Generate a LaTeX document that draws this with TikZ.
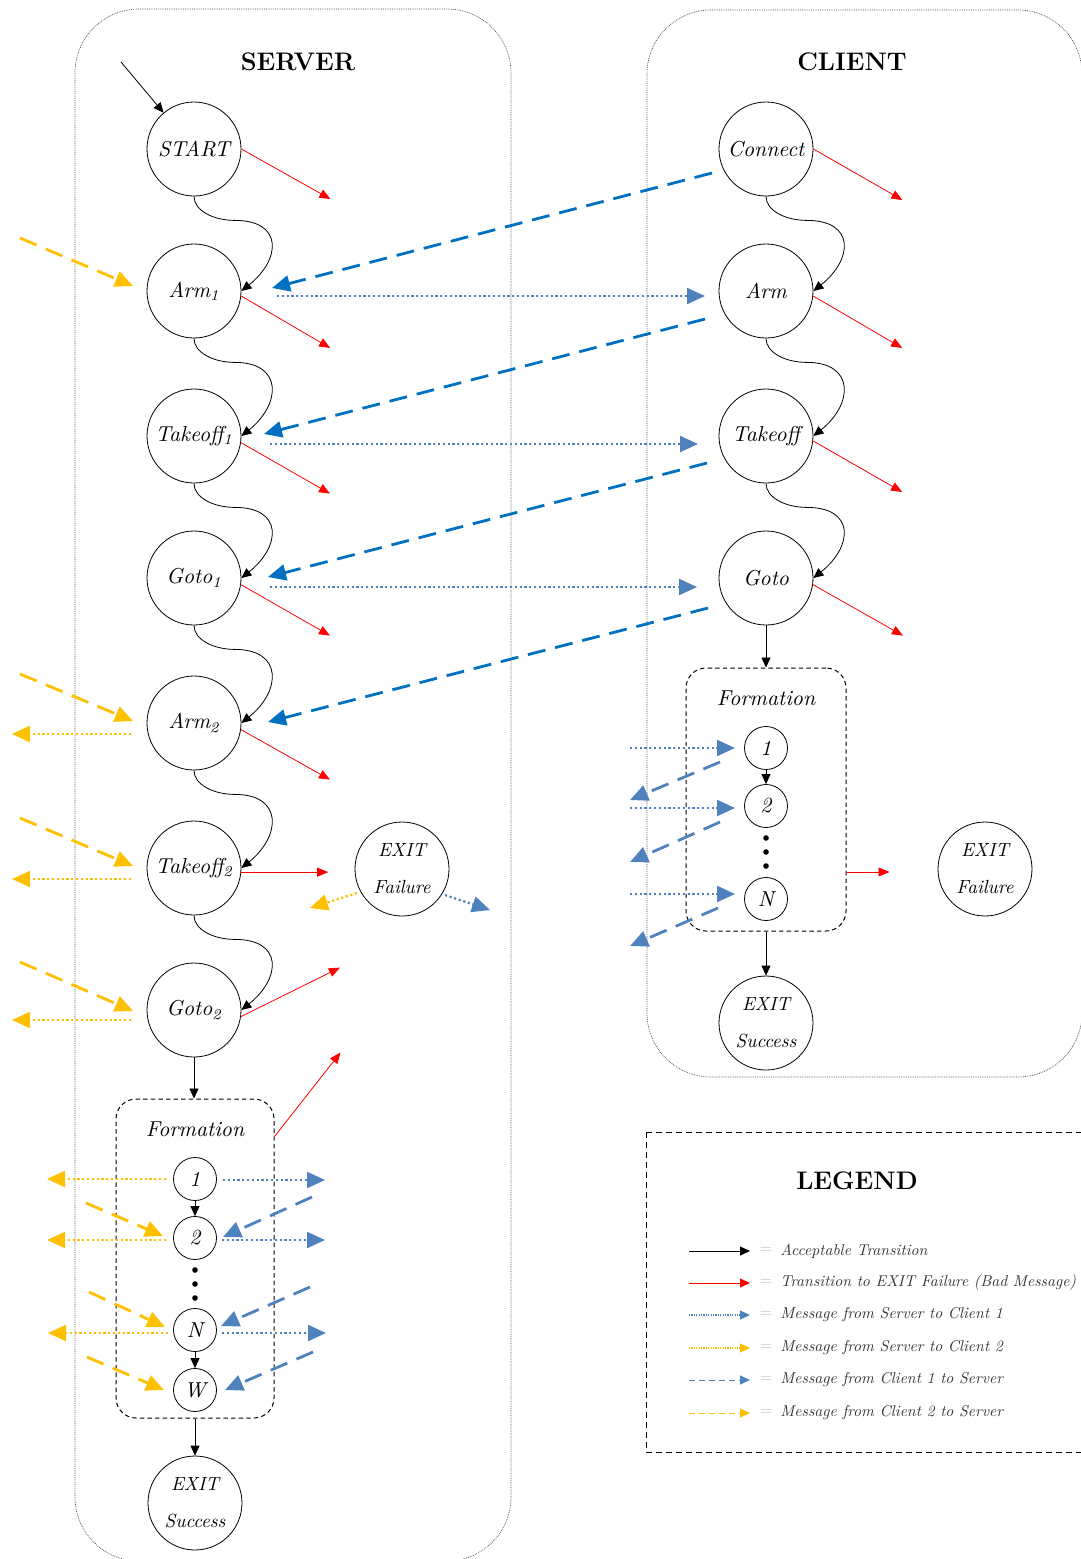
\documentclass[tikz,border=0pt]{standalone}
\usetikzlibrary{arrows.meta,calc}
\definecolor{dblue}{HTML}{0070C0}
\definecolor{lblue}{HTML}{4F81BD}
\definecolor{yel}{HTML}{FFC000}
\definecolor{redc}{HTML}{FF0000}
\newcommand\wavy[2]{\draw[acc] (#1.south) .. controls +(0,14) and +(-22,0) .. ($(#1.south)+(41,24)$) .. controls +(48,0) and +(40,-32) .. (#2.east);}
\tikzset{
  state/.style={circle,draw,minimum size=47pt,inner sep=0pt,font=\fontsize{10.8}{13}\selectfont\itshape},
  exitst/.style={circle,draw,minimum size=47pt,inner sep=0pt,align=center,font=\fontsize{9.5}{18.5}\selectfont\itshape},
  substate/.style={circle,draw,minimum size=21.5pt,inner sep=0pt,font=\fontsize{10.8}{13}\selectfont\itshape},
  formbox/.style={draw,line width=0.5pt,dash pattern=on 2.2pt off 1.6pt,rounded corners=10pt,minimum width=79pt},
  lbl/.style={font=\fontsize{10.8}{13}\selectfont\itshape},
  title/.style={font=\fontsize{12.7}{15}\selectfont\bfseries},
  bigtip/.style={-{Triangle[length=9pt,width=8pt]}},
  acc/.style={black,-{Triangle[length=5pt,width=4.5pt]}},
  bad/.style={redc,-{Triangle[length=5.5pt,width=4.5pt]}},
  cdark/.style={dblue,line width=1.4pt,dash pattern=on 9pt off 5pt,bigtip},
  cone/.style={lblue,line width=1.4pt,dash pattern=on 9pt off 5pt,bigtip},
  ctwo/.style={yel,line width=1.4pt,dash pattern=on 9pt off 5pt,bigtip},
  sone/.style={lblue,line width=1.1pt,dash pattern=on 1.1pt off 1.3pt,bigtip},
  stwo/.style={yel,line width=1.1pt,dash pattern=on 1.1pt off 1.3pt,bigtip},
  dotn/.style={circle,fill,inner sep=0pt,minimum size=2.8pt},
  bigbox/.style={draw=black!70,line width=0.35pt,dash pattern=on 0.4pt off 0.5pt,rounded corners=32pt},
  legtip/.style={-{Triangle[length=5pt,width=4.5pt]}},
  legtext/.style={anchor=west,inner sep=0pt,text=black!80,font=\fontsize{10}{12}\selectfont\itshape,scale=0.785,transform shape},
  legeq/.style={text=black!25,font=\fontsize{10}{12}\selectfont,scale=0.785,transform shape},
}
\begin{document}
\begin{tikzpicture}[x=0.5pt,y=-0.5pt]
\useasboundingbox (0,0) rectangle (1081,1559);
\clip (0,0) rectangle (1081,1559);
% big boxes
\draw[bigbox] (75,9) rectangle (511,1561);
\draw[bigbox] (647,10) rectangle (1082,1077);
\node[title] (srvT) at (298,62) {SERVER};
\node[title] (cliT) at (852,62) {CLIENT};

% server states
\node[state] (S0) at (194,149) {START};
\node[state] (A1) at (194,291) {Arm\textsubscript{1}};
\node[state] (T1) at (194,436) {Takeoff\textsubscript{1}};
\node[state] (G1) at (194,578) {Goto\textsubscript{1}};
\node[state] (A2) at (194,723) {Arm\textsubscript{2}};
\node[state] (T2) at (194,868) {Takeoff\textsubscript{2}};
\node[state] (G2) at (194,1010) {Goto\textsubscript{2}};
\node[exitst] (EF) at (402,869) {EXIT\\Failure};
\node[formbox,minimum height=159.5pt] (F) at (195,1258.5) {};
\node[lbl] (Flbl) at (195,1129) {Formation};
\node[substate] (f1) at (195,1179) {1};
\node[substate] (f2) at (195,1238) {2};
\node[dotn] (fd1) at (195,1270) {};
\node[dotn] (fd2) at (195,1284) {};
\node[dotn] (fd3) at (195,1298) {};
\node[substate] (fN) at (195,1330) {N};
\node[substate] (fW) at (195,1390) {W};
\node[exitst] (ES) at (195,1503) {EXIT\\Success};

% client states
\node[state] (C0) at (766,149) {Connect};
\node[state] (CA) at (766,291) {Arm};
\node[state] (CT) at (766,436) {Takeoff};
\node[state] (CG) at (766,578) {Goto};
\node[formbox,minimum width=80pt,minimum height=131.5pt] (CF) at (766,799.5) {};
\node[lbl] (CFlbl) at (766,698) {Formation};
\node[substate] (c1) at (766,748) {1};
\node[substate] (c2) at (766,806) {2};
\node[dotn] (cd1) at (766,838) {};
\node[dotn] (cd2) at (766,852) {};
\node[dotn] (cd3) at (766,866) {};
\node[substate] (cN) at (766,899) {N};
\node[exitst] (CES) at (766,1023) {EXIT\\Success};
\node[exitst] (CEF) at (985,869) {EXIT\\Failure};

% acceptable transitions
\coordinate (init) at (121,62);
\draw[acc] (init) -- (S0);
\wavy{S0}{A1}
\wavy{A1}{T1}
\wavy{T1}{G1}
\wavy{G1}{A2}
\wavy{A2}{T2}
\wavy{T2}{G2}
\wavy{C0}{CA}
\wavy{CA}{CT}
\wavy{CT}{CG}
\draw[acc] (G2.south) -- (G2.south |- F.north);
\draw[acc] (f1) -- (f2);
\draw[acc] (fN) -- (fW);
\draw[acc] (F.south) -- (ES);
\draw[acc] (CG.south) -- (CF.north);
\draw[acc] (c1) -- (c2);
\draw[acc] (CF.south) -- (CES);

% failure transitions
\draw[bad] (S0.0) -- ++(89,50);
\draw[bad] (A1.-6) -- ++(89,52);
\draw[bad] (T1.-8) -- ++(89,51);
\draw[bad] (G1.-8) -- ++(89,51);
\draw[bad] (A2.-8) -- ++(89,50);
\draw[bad] (T2.-5) -- ++(87,0);
\draw[bad] (G2.-8) -- ++(99,-49);
\draw[bad] ([shift={(0,38)}]F.north east) -- ++(66,-84);
\draw[bad] (C0.0) -- ++(89,51);
\draw[bad] (CA.-6) -- ++(89,52);
\draw[bad] (CT.-6) -- ++(89,51);
\draw[bad] (CG.-8) -- ++(90,51);
\draw[bad] ([shift={(0,72.5)}]CF.east) -- ++(43,0);

% client 1 -> server (dark blue)
\draw[cdark] ([shift={(-54,24)}]C0.center) -- ([shift={(78,-3)}]A1.center);
\draw[cdark] ([shift={(-61,28)}]CA.center) -- ([shift={(70,-2)}]T1.center);
\draw[cdark] ([shift={(-59,27)}]CT.center) -- ([shift={(74,-1)}]G1.center);
\draw[cdark] ([shift={(-58,30)}]CG.center) -- ([shift={(74,-1)}]A2.center);
% server -> client 1
\draw[sone] ([shift={(83,5)}]A1.center) -- ([shift={(-61,5)}]CA.center);
\draw[sone] ([shift={(76,8)}]T1.center) -- ([shift={(-68,8)}]CT.center);
\draw[sone] ([shift={(76,9)}]G1.center) -- ([shift={(-69,9)}]CG.center);

% client 2 -> server
\coordinate (y1) at (20,238);
\coordinate (y2) at (20,674);
\coordinate (y3) at (20,818);
\coordinate (y4) at (20,962);
\draw[ctwo] (y1) -- ([shift={(-61,-5)}]A1.center);
\draw[ctwo] (y2) -- ([shift={(-61,-2)}]A2.center);
\draw[ctwo] (y3) -- ([shift={(-61,-2)}]T2.center);
\draw[ctwo] (y4) -- ([shift={(-61,1)}]G2.center);
% server -> client 2
\draw[stwo] ([shift={(-63,11)}]A2.center) -- ++(-119,0);
\draw[stwo] ([shift={(-63,11)}]T2.center) -- ++(-119,0);
\draw[stwo] ([shift={(-63,10)}]G2.center) -- ++(-119,0);

% exit failure messages
\draw[stwo] ([shift={(-45,24)}]EF.center) -- ++(-47,15);
\draw[sone] ([shift={(43,26)}]EF.center) -- ++(45,15);

% server formation messages
\draw[stwo] ([shift={(-29,0)}]f1.center) -- ++(-119,0);
\draw[sone] ([shift={(28,1)}]f1.center) -- ++(102,0);
\draw[ctwo] ([shift={(-109,-35)}]f2.center) -- ([shift={(-32,-2)}]f2.center);
\draw[stwo] ([shift={(-29,2)}]f2.center) -- ++(-119,0);
\draw[cone] ([shift={(117,-41)}]f2.center) -- ([shift={(28,-1)}]f2.center);
\draw[sone] ([shift={(27,2)}]f2.center) -- ++(103,0);
\draw[ctwo] ([shift={(-106,-38)}]fN.center) -- ([shift={(-30,-3)}]fN.center);
\draw[stwo] ([shift={(-27,3)}]fN.center) -- ++(-120,0);
\draw[cone] ([shift={(115,-43)}]fN.center) -- ([shift={(26,-4)}]fN.center);
\draw[sone] ([shift={(27,3)}]fN.center) -- ++(104,0);
\draw[ctwo] ([shift={(-108,-33)}]fW.center) -- ([shift={(-31,0)}]fW.center);
\draw[cone] ([shift={(118,-38)}]fW.center) -- ([shift={(30,0)}]fW.center);

% client formation messages
\draw[sone] ([shift={(-136,0)}]c1.center) -- ([shift={(-31,0)}]c1.center);
\draw[cone] ([shift={(-46,14)}]c1.center) -- ++(-90,38);
\draw[sone] ([shift={(-136,2)}]c2.center) -- ([shift={(-31,2)}]c2.center);
\draw[cone] ([shift={(-46,16)}]c2.center) -- ++(-90,40);
\draw[sone] ([shift={(-136,-5)}]cN.center) -- ([shift={(-31,-5)}]cN.center);
\draw[cone] ([shift={(-48,9)}]cN.center) -- ++(-88,38);

% legend
\draw[dash pattern=on 3pt off 2pt,line width=0.5pt] (646,1132) rectangle (1084,1452);
\node[title] (legT) at (857,1181) {LEGEND};
\coordinate (la1) at (689,1251); \coordinate (lb1) at (750,1251);
\coordinate (la2) at (689,1283); \coordinate (lb2) at (750,1283);
\coordinate (la3) at (689,1315); \coordinate (lb3) at (750,1315);
\coordinate (la4) at (689,1348); \coordinate (lb4) at (750,1348);
\coordinate (la5) at (689,1380); \coordinate (lb5) at (750,1380);
\coordinate (la6) at (689,1413); \coordinate (lb6) at (750,1413);
\draw[black,legtip] (la1) -- (lb1);
\draw[redc,legtip] (la2) -- (lb2);
\draw[lblue,legtip,line width=0.6pt,dash pattern=on 0.6pt off 0.6pt] (la3) -- (lb3);
\draw[yel,legtip,line width=0.6pt,dash pattern=on 0.6pt off 0.6pt] (la4) -- (lb4);
\draw[lblue,legtip,line width=0.5pt,dash pattern=on 3pt off 2pt] (la5) -- (lb5);
\draw[yel,legtip,line width=0.5pt,dash pattern=on 3pt off 2pt] (la6) -- (lb6);
\foreach \y/\n in {1251/1,1283/2,1315/3,1348/4,1380/5,1413/6}{\node[legeq] (eq\n) at (766,\y) {=};}
\node[legtext] (lt1) at (780,1251) {Acceptable Transition};
\node[legtext] (lt2) at (780,1283) {Transition to EXIT Failure (Bad Message)};
\node[legtext] (lt3) at (780,1315) {Message from Server to Client 1};
\node[legtext] (lt4) at (780,1348) {Message from Server to Client 2};
\node[legtext] (lt5) at (780,1380) {Message from Client 1 to Server};
\node[legtext] (lt6) at (780,1413) {Message from Client 2 to Server};
\end{tikzpicture}
\end{document}
